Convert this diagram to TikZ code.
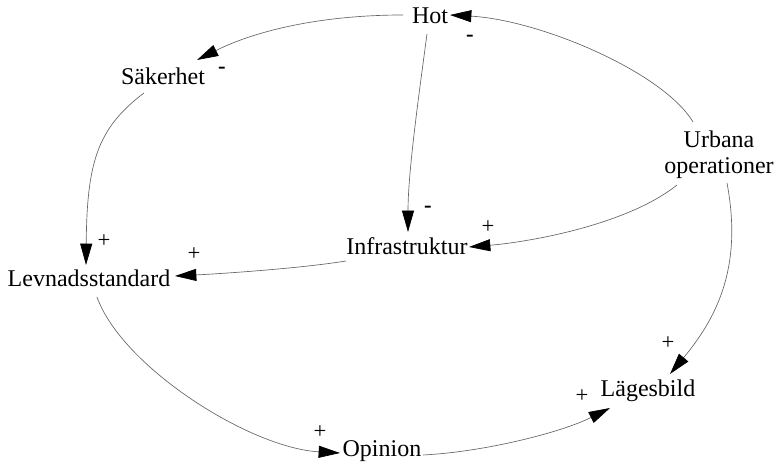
\documentclass[tikz,border=0pt]{standalone}
\usepackage{fontspec}
\setmainfont{Liberation Serif}
\usetikzlibrary{arrows.meta}
\tikzset{
  var/.style={inner sep=0pt, anchor=base, font=\fontsize{18}{19.5}\selectfont},
  sgn/.style={inner sep=0pt, font=\fontsize{17}{17}\selectfont},
  neg/.style={sgn, font=\fontsize{17}{17}\selectfont\bfseries},
  link/.style={draw=black!60, line width=0.5pt, -{Triangle[length=16pt,width=9pt,color=black]}}
}
\begin{document}
\begin{tikzpicture}[x=0.75pt, y=-0.75pt]
  \useasboundingbox (0,0) rectangle (779,466);

  % Variabler
  \node[var] (hot) at (430,24) {Hot};
  \node[var] (sak) at (163,85) {Säkerhet};
  \node[var] (lev) at (89,287) {Levnadsstandard};
  \node[var] (inf) at (407,255) {Infrastruktur};
  \node[var, anchor=north, align=center] (urb) at (719,131) {Urbana\\operationer};
  \node[var] (lag) at (648,397) {Lägesbild};
  \node[var] (opi) at (382,457) {Opinion};

  % Samband
  \draw[link] ([shift={(-27,-9)}]hot.base) .. controls +(-80,0) and +(60,-30) .. ([shift={(34,-25)}]sak.base);
  \draw[link] ([shift={(-19,8)}]sak.base) .. controls +(-48,36) and +(1,-100) .. ([shift={(-3,-22)}]lev.base);
  \draw[link] ([shift={(-3,10)}]hot.base) .. controls +(-8,60) and +(0,-60) .. ([shift={(1,-23)}]inf.base);
  \draw[link] ([shift={(-61,6)}]inf.base) .. controls +(-50,8) and +(40,-2) .. ([shift={(86,-11)}]lev.base);
  \draw[link] ([shift={(-26,-9)}]urb.north) .. controls +(-30,-50) and +(90,5) .. ([shift={(20,-9)}]hot.base);
  \draw[link] ([shift={(-42,54)}]urb.north) .. controls +(-50,40) and +(60,-5) .. ([shift={(62,-8)}]inf.base);
  \draw[link] ([shift={(8,52)}]urb.north) .. controls +(15,80) and +(50,-60) .. ([shift={(22,-23)}]lag.base);
  \draw[link] ([shift={(8,10)}]lev.base) .. controls +(25,70) and +(-90,-5) .. ([shift={(-42,-4)}]opi.base);
  \draw[link] ([shift={(41,-2)}]opi.base) .. controls +(60,-3) and +(-50,25) .. ([shift={(-38,11)}]lag.base);

  % Tecken
  \node[neg] (s1) at (470,38) {-};
  \node[neg] (s2) at (222,70) {-};
  \node[neg] (s3) at (428,209) {-};
  \node[sgn] (s4) at (104,241) {+};
  \node[sgn] (s5) at (194,254) {+};
  \node[sgn] (s6) at (488,227) {+};
  \node[sgn] (s7) at (668,343) {+};
  \node[sgn] (s8) at (582,396) {+};
  \node[sgn] (s9) at (320,432) {+};
\end{tikzpicture}
\end{document}
